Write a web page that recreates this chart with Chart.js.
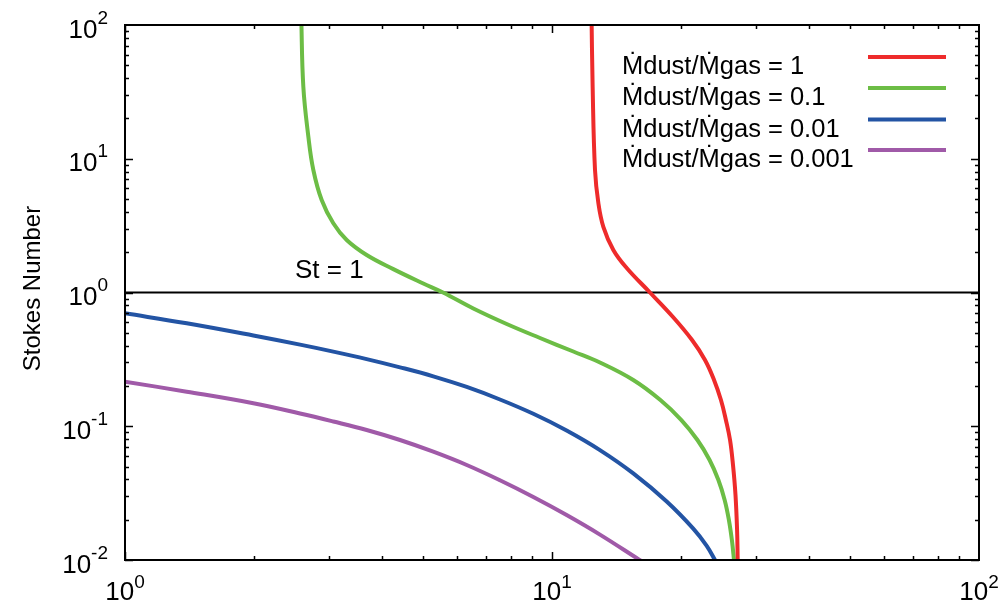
<!DOCTYPE html>
<html>
<head>
<meta charset="utf-8">
<script src="https://cdn.jsdelivr.net/npm/chart.js@4.4.1/dist/chart.umd.min.js"></script>
<style>
  html, body { margin: 0; padding: 0; background: #fff; }
  #c { display: block; }
</style>
</head>
<body>
<canvas id="c" width="1003" height="606"></canvas>
<script>
// Dust-to-gas mass flux ratios shown in the key
const seriesLabels = ['\u1E40dust/\u1E40gas = 1', '\u1E40dust/\u1E40gas = 0.1', '\u1E40dust/\u1E40gas = 0.01', '\u1E40dust/\u1E40gas = 0.001'];
const seriesColors = ['#ee2b2b', '#6cbd45', '#2354a4', '#a05aa8'];

// Stokes number versus radius for each ratio
const ratio1X = [12.37, 12.45, 12.61, 12.84, 13.19, 13.92, 14.96, 16.96, 19.20, 21.28, 22.82, 23.96, 24.87, 25.55, 26.12, 26.54, 26.90, 27.13, 27.22, 27.26];
const ratio1Y = [130, 34.6, 8.24, 4.67, 3.10, 2.08, 1.525, 1.0, 0.656, 0.441, 0.313, 0.222, 0.157, 0.111, 0.0789, 0.0513, 0.0306, 0.01676, 0.0100, 0.0085];

const ratio01X = [2.586, 2.616, 2.688, 2.761, 2.888, 3.075, 3.305, 3.681, 4.250, 4.995, 5.556, 6.543, 7.833, 9.374, 11.22, 12.95, 15.50, 17.94, 20.09, 21.91, 23.39, 24.53, 25.37, 25.96, 26.38, 26.68, 26.81];
const ratio01Y = [118.8, 34.57, 14.62, 8.24, 4.915, 3.291, 2.469, 1.907, 1.496, 1.168, 1.0, 0.759, 0.5813, 0.4568, 0.3621, 0.2996, 0.2217, 0.1571, 0.1113, 0.0789, 0.0559, 0.0396, 0.0281, 0.0199, 0.0141, 0.0100, 0.00842];

const ratio001X = [1, 1.395, 1.998, 2.570, 3.075, 3.681, 4.406, 5.272, 6.314, 7.553, 9.042, 10.82, 12.95, 15.50, 18.56, 21.42, 23.03, 24.08, 24.34];
const ratio001Y = [0.699, 0.5885, 0.477, 0.4077, 0.3615, 0.3177, 0.2758, 0.2362, 0.1966, 0.1585, 0.1239, 0.0929, 0.0663, 0.0444, 0.02738, 0.01717, 0.01277, 0.0100, 0.00929];

const ratio0001X = [1, 1.395, 1.998, 2.570, 3.075, 3.681, 4.406, 5.272, 6.314, 7.553, 9.042, 10.82, 12.95, 15.93, 16.51];
const ratio0001Y = [0.2154, 0.1813, 0.1485, 0.1245, 0.1085, 0.0937, 0.0789, 0.0645, 0.0513, 0.03944, 0.02958, 0.02169, 0.01549, 0.01015, 0.00943];

// Reference line St = 1
const stLineX = [1, 100];
const stLineY = [1, 1];

// Axis ranges and decade tick exponents
const xMin = 1, xMax = 100;
const yMin = 0.01, yMax = 100;
const xDecades = [0, 1, 2];
const yDecades = [-2, -1, 0, 1, 2];

const FONT = '"Liberation Sans", Arial, Helvetica, sans-serif';

function toPoints(xs, ys) { return xs.map((x, i) => ({ x: x, y: ys[i] })); }

const seriesX = [ratio1X, ratio01X, ratio001X, ratio0001X];
const seriesY = [ratio1Y, ratio01Y, ratio001Y, ratio0001Y];

const datasets = seriesLabels.map((label, i) => ({
  label: label,
  data: toPoints(seriesX[i], seriesY[i]),
  borderColor: seriesColors[i],
  borderWidth: 4,
  pointRadius: 0,
  tension: 0.4,
  clip: 0,
  fill: false
}));
datasets.push({
  label: 'St = 1',
  data: toPoints(stLineX, stLineY),
  borderColor: '#000',
  borderWidth: 2,
  pointRadius: 0,
  clip: 0,
  fill: false
});

// Draws the frame, inward ticks on all sides, power-of-ten labels, axis title and key
const decorations = {
  id: 'decorations',
  afterDraw(chart) {
    const ctx = chart.ctx;
    const a = chart.chartArea;
    const xs = chart.scales.x, ys = chart.scales.y;
    ctx.save();

    // frame
    ctx.strokeStyle = '#000';
    ctx.lineWidth = 2;
    ctx.strokeRect(a.left, a.top, a.right - a.left, a.bottom - a.top);

    // ticks
    ctx.lineWidth = 1.5;
    ctx.beginPath();
    for (let e = 0; e < 2; e++) {
      for (let m = 1; m <= 9; m++) {
        const v = m * Math.pow(10, e);
        const px = Math.round(xs.getPixelForValue(v)) + 0.5;
        const len = m === 1 ? 8 : 4;
        ctx.moveTo(px, a.bottom); ctx.lineTo(px, a.bottom - len);
        ctx.moveTo(px, a.top); ctx.lineTo(px, a.top + len);
      }
    }
    for (let e = -2; e < 2; e++) {
      for (let m = 1; m <= 9; m++) {
        const v = m * Math.pow(10, e);
        const py = Math.round(ys.getPixelForValue(v)) + 0.5;
        const len = m === 1 ? 8 : 4;
        ctx.moveTo(a.left, py); ctx.lineTo(a.left + len, py);
        ctx.moveTo(a.right, py); ctx.lineTo(a.right - len, py);
      }
    }
    ctx.stroke();

    ctx.fillStyle = '#000';
    const baseFont = '26px ' + FONT;
    const supFont = '19px ' + FONT;

    // x tick labels
    ctx.textBaseline = 'alphabetic';
    xDecades.forEach(e => {
      const px = xs.getPixelForValue(Math.pow(10, e));
      ctx.font = baseFont;
      const w1 = ctx.measureText('10').width;
      ctx.font = supFont;
      const w2 = ctx.measureText(String(e)).width;
      const x0 = px - (w1 + w2) / 2;
      ctx.textAlign = 'left';
      ctx.font = baseFont;
      ctx.fillText('10', x0, 600);
      ctx.font = supFont;
      ctx.fillText(String(e), x0 + w1, 588);
    });

    // y tick labels
    yDecades.forEach(e => {
      const py = ys.getPixelForValue(Math.pow(10, e));
      ctx.font = supFont;
      const w2 = ctx.measureText(String(e)).width;
      ctx.textAlign = 'right';
      ctx.fillText(String(e), 108, py - 1.5);
      ctx.font = baseFont;
      ctx.fillText('10', 108 - w2, py + 12.5);
    });

    // y axis title
    ctx.save();
    ctx.translate(40, (a.top + a.bottom) / 2 - 4);
    ctx.rotate(-Math.PI / 2);
    ctx.textAlign = 'center';
    ctx.font = '24px ' + FONT;
    ctx.fillText('Stokes Number', 0, 0);
    ctx.restore();

    // St = 1 annotation
    ctx.font = '26px ' + FONT;
    ctx.textAlign = 'left';
    ctx.fillText('St = 1', 295, 278);

    // key
    const keyRows = [74, 105, 136.5, 167];
    seriesLabels.forEach((label, i) => {
      ctx.font = '25.5px ' + FONT;
      ctx.textAlign = 'left';
      ctx.fillStyle = '#000';
      ctx.fillText(label, 622, keyRows[i]);
      ctx.strokeStyle = seriesColors[i];
      ctx.lineWidth = 4;
      ctx.beginPath();
      ctx.moveTo(868, keyRows[i] - 17);
      ctx.lineTo(946, keyRows[i] - 17);
      ctx.stroke();
    });

    ctx.restore();
  }
};

new Chart(document.getElementById('c'), {
  type: 'line',
  data: { datasets: datasets },
  options: {
    responsive: false,
    animation: false,
    layout: { padding: { left: 125, right: 24, top: 25, bottom: 46 } },
    plugins: { legend: { display: false }, tooltip: { enabled: false } },
    scales: {
      x: { type: 'logarithmic', min: xMin, max: xMax, display: false },
      y: { type: 'logarithmic', min: yMin, max: yMax, display: false }
    }
  },
  plugins: [decorations]
});
</script>
</body>
</html>
